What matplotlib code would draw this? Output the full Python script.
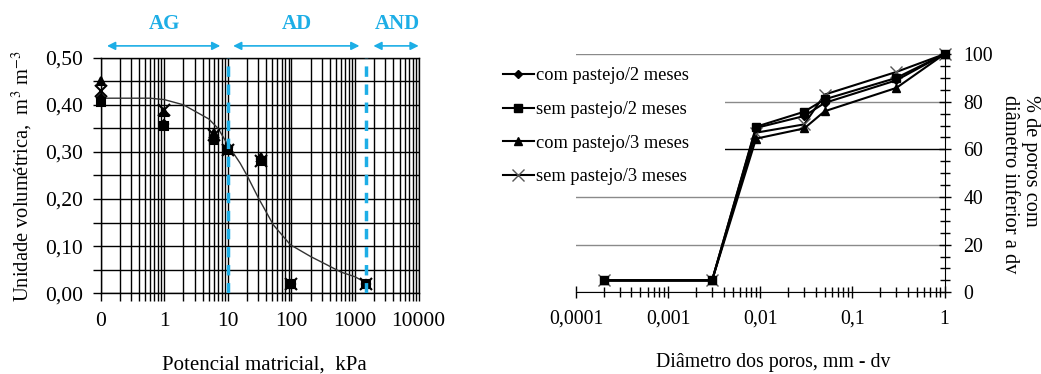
import matplotlib
matplotlib.use('Agg')
import matplotlib.pyplot as plt
from matplotlib.patches import Rectangle
from matplotlib.ticker import FixedLocator, MultipleLocator, LogLocator, NullFormatter

plt.rcParams['font.family'] = ['Liberation Serif', 'DejaVu Serif']
plt.rcParams['mathtext.fontset'] = 'stix'

BLUE = '#1DAEE6'

# Left panel: water retention (kPa vs m3/m3)
pot_x = [0.1, 1, 6, 10, 33, 100, 1500]
com2_theta = [0.415, 0.36, 0.33, 0.31, 0.285, 0.02, 0.02]
sem2_theta = [0.405, 0.355, 0.325, 0.305, 0.28, 0.02, 0.02]
com3_theta = [0.45, 0.385, 0.34, 0.31, 0.29, 0.02, 0.02]
sem3_theta = [0.43, 0.39, 0.335, 0.305, 0.28, 0.02, 0.02]

# fitted curve
curve_x = [0.1, 0.6, 1, 2, 5, 7, 10, 15.6, 20, 30, 52, 96, 200, 320, 600, 1000, 1500]
curve_y = [0.414, 0.414, 0.411, 0.400, 0.370, 0.350, 0.315, 0.276, 0.250, 0.203,
           0.145, 0.103, 0.078, 0.064, 0.045, 0.035, 0.022]

left_xticks = [0.1, 1, 10, 100, 1000, 10000]
left_xlabels = ['0', '1', '10', '100', '1000', '10000']
left_yticks = [0.0, 0.1, 0.2, 0.3, 0.4, 0.5]
left_ylabels = ['0,00', '0,10', '0,20', '0,30', '0,40', '0,50']

zones = ['AG', 'AD', 'AND']
zone_from = [0.126, 12.1, 1940]
zone_to = [7.6, 1170, 10000]
zone_label_x = [1, 120, 4600]
zone_lines = [10, 1500]

# Right panel: pore size distribution
diam = [0.0002, 0.003, 0.009, 0.03, 0.05, 0.3, 1]
com2_pct = [5, 5, 69, 74, 79.5, 89, 100]
sem2_pct = [5, 5, 69.5, 75.8, 81, 90, 100]
com3_pct = [5, 5, 64.5, 68.8, 76, 85.8, 100]
sem3_pct = [5, 5, 67, 70.5, 83, 92.5, 100]

right_xticks = [0.0001, 0.001, 0.01, 0.1, 1]
right_xlabels = ['0,0001', '0,001', '0,01', '0,1', '1']

series_names = ['com pastejo/2 meses', 'sem pastejo/2 meses',
                'com pastejo/3 meses', 'sem pastejo/3 meses']
markers = ['D', 's', '^', 'x']
msizes = [4, 6, 6, 8]
orders = [3.2, 3.3, 3.1, 3.0]  # squares end up on top, like the original

fig = plt.figure(figsize=(10.41, 3.74), dpi=100)

# ---- left chart ----
ax1 = fig.add_axes([0.0967, 0.2158, 0.3055, 0.630])
ax1.set_xscale('log')
ax1.set_xlim(0.1, 10000)
ax1.set_ylim(0, 0.5)
ax1.xaxis.set_major_locator(FixedLocator(left_xticks))
ax1.set_xticklabels(left_xlabels)
ax1.xaxis.set_minor_locator(LogLocator(base=10, subs=range(2, 10), numticks=20))
ax1.xaxis.set_minor_formatter(NullFormatter())
ax1.set_yticks(left_yticks)
ax1.set_yticklabels(left_ylabels)
ax1.yaxis.set_minor_locator(MultipleLocator(0.05))
ax1.grid(True, which='both', color='black', lw=1.0)
ax1.tick_params(which='both', direction='out', length=5.5, width=1, labelsize=15.5)
ax1.tick_params(axis='x', pad=8)
ax1.tick_params(axis='y', pad=7)
for s in ax1.spines.values():
    s.set_linewidth(1)

ax1.plot(curve_x, curve_y, color='#333333', lw=1.0, zorder=3)
left_series = [com2_theta, sem2_theta, com3_theta, sem3_theta]
for ys, m, ms in zip(left_series, markers, msizes):
    ax1.plot(pot_x, ys, ls='none', marker=m, ms=ms, color='black',
             mew=1.5, clip_on=False, zorder=4)

for xv in zone_lines:
    ax1.axvline(xv, color=BLUE, lw=2.5, ls=(0, (3, 2.2)), zorder=5)

for name, a, b, lx in zip(zones, zone_from, zone_to, zone_label_x):
    ax1.annotate('', xy=(b, 1.05), xytext=(a, 1.05),
                 xycoords=('data', 'axes fraction'),
                 arrowprops=dict(arrowstyle='<|-|>', color=BLUE, lw=1.2,
                                 mutation_scale=12, shrinkA=0, shrinkB=0),
                 annotation_clip=False)
    ax1.text(lx, 1.145, name, transform=ax1.get_xaxis_transform(), ha='center',
             va='center', color=BLUE, fontsize=15, fontweight='bold')

fig.text(21.7 / 1041, 0.5 * (1 - 293.3 / 374) + 0.5 * (1 - 57.7 / 374) - 0.003,
         'Unidade volumétrica,  m$^3$ m$^{-3}$', rotation=90,
         ha='center', va='center', fontsize=14.8)
fig.text(264 / 1041, 1 - 365 / 374, 'Potencial matricial,  kPa',
         ha='center', va='center', fontsize=15)

# ---- right chart ----
ax2 = fig.add_axes([576 / 1041, 0.2184, 368.5 / 1041, 0.637])
ax2.set_xscale('log')
ax2.set_xlim(0.0001, 1)
ax2.set_ylim(0, 100)
ax2.xaxis.set_major_locator(FixedLocator(right_xticks))
ax2.set_xticklabels(right_xlabels)
ax2.xaxis.set_minor_locator(LogLocator(base=10, subs=range(2, 10), numticks=20))
ax2.xaxis.set_minor_formatter(NullFormatter())
ax2.yaxis.tick_right()
ax2.set_yticks(range(0, 101, 20))
ax2.yaxis.set_minor_locator(MultipleLocator(5))
ax2.tick_params(which='major', direction='inout', length=9, width=1, labelsize=14.3)
ax2.tick_params(which='minor', direction='inout', length=7, width=1)
ax2.tick_params(axis='x', pad=8)
ax2.tick_params(axis='y', pad=9)
ax2.spines['left'].set_visible(False)
ax2.spines['top'].set_visible(False)
ax2.grid(True, axis='y', which='major', color='#8a8a8a', lw=1.0)
for val, gl in zip(ax2.get_yticks(), ax2.yaxis.get_gridlines()):
    if val == 60:
        gl.set_color('black')

# white area behind the legend hides part of the 80 and 60 grid lines
ax2.add_patch(Rectangle((0, 43), (725 - 576) / 368.5, 54,
                        transform=ax2.get_yaxis_transform(),
                        facecolor='white', edgecolor='none', zorder=2))

right_series = [com2_pct, sem2_pct, com3_pct, sem3_pct]
for name, ys, m, ms, zo in zip(series_names, right_series, markers, msizes, orders):
    ax2.plot(diam, ys, color='black', lw=1.5, marker=m, ms=ms,
             mec='#555555' if m == 'x' else 'black', mew=1.0,
             clip_on=False, label=name, zorder=zo)

leg = ax2.legend(loc='upper left', bbox_to_anchor=(0.4775, 1 - 62 / 374),
                 bbox_transform=fig.transFigure, fontsize=13.2, frameon=False,
                 handlelength=1.7, handletextpad=0.1, labelspacing=0.9,
                 borderaxespad=0, borderpad=0.3)
leg.set_zorder(10)

fig.text(773 / 1041, 1 - 363 / 374, 'Diâmetro dos poros, mm - dv',
         ha='center', va='center', fontsize=14.3)
fig.text(1020 / 1041, 1 - 95 / 374, '% de poros com\ndiâmetro inferior a dv',
         rotation=270, ha='center', va='top', multialignment='left',
         fontsize=14.7, linespacing=1.15)

fig.savefig('out.png', dpi=100)
